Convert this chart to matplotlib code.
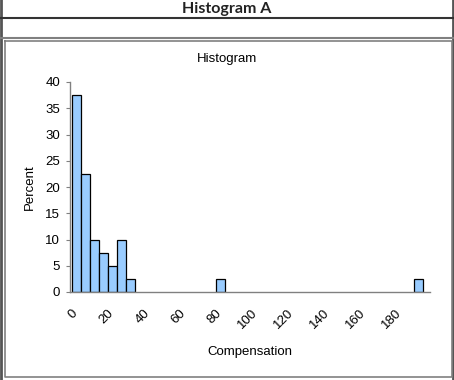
import matplotlib
matplotlib.use("Agg")
import matplotlib.pyplot as plt
import matplotlib.transforms as mtransforms
from matplotlib.lines import Line2D

plt.rcParams['font.family'] = ['Liberation Sans', 'DejaVu Sans']

# histogram data: left edge of each bin (width 5) and percent
bin_left = [0, 5, 10, 15, 20, 25, 30, 80, 190]
percent = [37.5, 22.5, 10, 7.5, 5, 10, 2.5, 2.5, 2.5]
bin_width = 5
x_ticks = list(range(0, 200, 20))
y_ticks = list(range(0, 45, 5))

W, H = 454, 380
fig = plt.figure(figsize=(W / 100, H / 100), dpi=100)

# overlay for the table frame (pixel coords)
frame = fig.add_axes([0, 0, 1, 1])
frame.set_xlim(0, W)
frame.set_ylim(H, 0)
frame.axis('off')
dark, grey = '#333333', '#808080'
frame.add_line(Line2D([1, 1], [0, H], color='#555555', lw=2))
frame.add_line(Line2D([453, 453], [0, H], color='#555555', lw=2))
frame.add_line(Line2D([0, W], [18, 18], color=dark, lw=1.5))
frame.add_line(Line2D([0, W], [37.5, 37.5], color=grey, lw=1.5))
frame.add_line(Line2D([4.5, 451.5, 451.5, 4.5, 4.5], [40.5, 40.5, 376.5, 376.5, 40.5],
                      color=grey, lw=1.2))
frame.text(227, 8.5, 'Histogram A', ha='center', va='center', fontsize=11.5,
           fontweight='bold', family=['Lato', 'DejaVu Sans'], color='#222222')
frame.text(227, 59, 'Histogram', ha='center', va='center', fontsize=9.5)
frame.text(250, 352, 'Compensation', ha='center', va='center', fontsize=9.5)
frame.text(30, 187, 'Percent', ha='center', va='center', fontsize=9.5, rotation=90)

# main plot
ax = fig.add_axes([70 / W, (H - 292) / H, 360 / W, 210 / H])
ax.bar(bin_left, percent, width=bin_width, align='edge', color='#99CCFF',
       edgecolor='black', linewidth=0.9)
ax.set_xlim(-1.1, 198.9)
ax.set_ylim(0, 40)
ax.set_yticks(y_ticks)
ax.set_xticks(x_ticks)
ax.set_xticklabels([str(t) for t in x_ticks], rotation=45, ha='right', va='top')
ax.tick_params(axis='x', length=0, pad=11, labelsize=9.5)
ax.tick_params(axis='y', length=3, width=0.8, color=grey, pad=4, labelsize=9.5)
shift = mtransforms.ScaledTranslation(8 / 100, 0, fig.dpi_scale_trans)
for lab in ax.get_xticklabels():
    lab.set_transform(lab.get_transform() + shift)
for s in ['top', 'right']:
    ax.spines[s].set_visible(False)
for s in ['left', 'bottom']:
    ax.spines[s].set_color(grey)
    ax.spines[s].set_linewidth(1)
ax.patch.set_alpha(0)

fig.savefig('out.png', dpi=100)
